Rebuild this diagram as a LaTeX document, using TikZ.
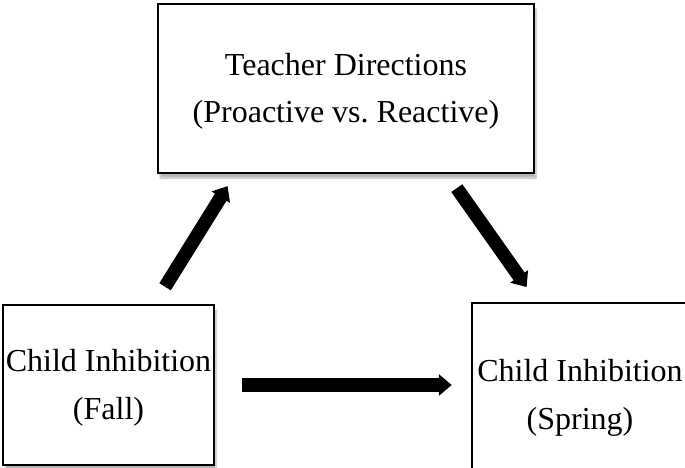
\documentclass[tikz,border=0pt]{standalone}
\usepackage{fontspec}
\setmainfont{Liberation Serif}
\frenchspacing
\usetikzlibrary{arrows.meta,calc,shadows.blur}

\tikzset{
  box/.style={draw, line width=2.5pt, fill=white, inner sep=0pt,
    blur shadow={shadow xshift=2pt, shadow yshift=-5pt, shadow blur steps=6, shadow opacity=30}},
  boxtext/.style={align=center, font=\fontsize{32}{47.5}\selectfont},
  bigarrow/.style={line width=13.5pt, -{Triangle[width=21pt,length=13pt]}},
}

\begin{document}
\begin{tikzpicture}[x=1pt, y=-1pt]
    \useasboundingbox (0,0) rectangle (685,468);

    % the three measures
    \node[box, minimum width=376, minimum height=169,
        label={[boxtext, yshift=-3pt]center:{Teacher Directions\\(Proactive vs. Reactive)}}]
        (teacher) at (346,88.5) {};
    \node[box, minimum width=211, minimum height=160,
        label={[boxtext, yshift=-3pt]center:{Child Inhibition\\(Fall)}}]
        (fall) at (108.5,385) {};
    \node[box, minimum width=216, minimum height=166,
        label={[boxtext, yshift=-12pt]center:{Child Inhibition\\(Spring)}}]
        (spring) at (580,386) {};

    % paths
    \draw[bigarrow, shorten <=20pt, shorten >=14pt]
        ($(fall.north)+(46,0)$) -- ($(teacher.south)+(-111,0)$);
    \draw[bigarrow, shorten <=17pt, shorten >=18pt]
        ($(teacher.south)+(101,0)$) -- ($(spring.north)+(-43,0)$);
    \draw[bigarrow, shorten <=27pt, shorten >=19pt]
        (fall.east) -- (fall.east -| spring.west);
\end{tikzpicture}
\end{document}
